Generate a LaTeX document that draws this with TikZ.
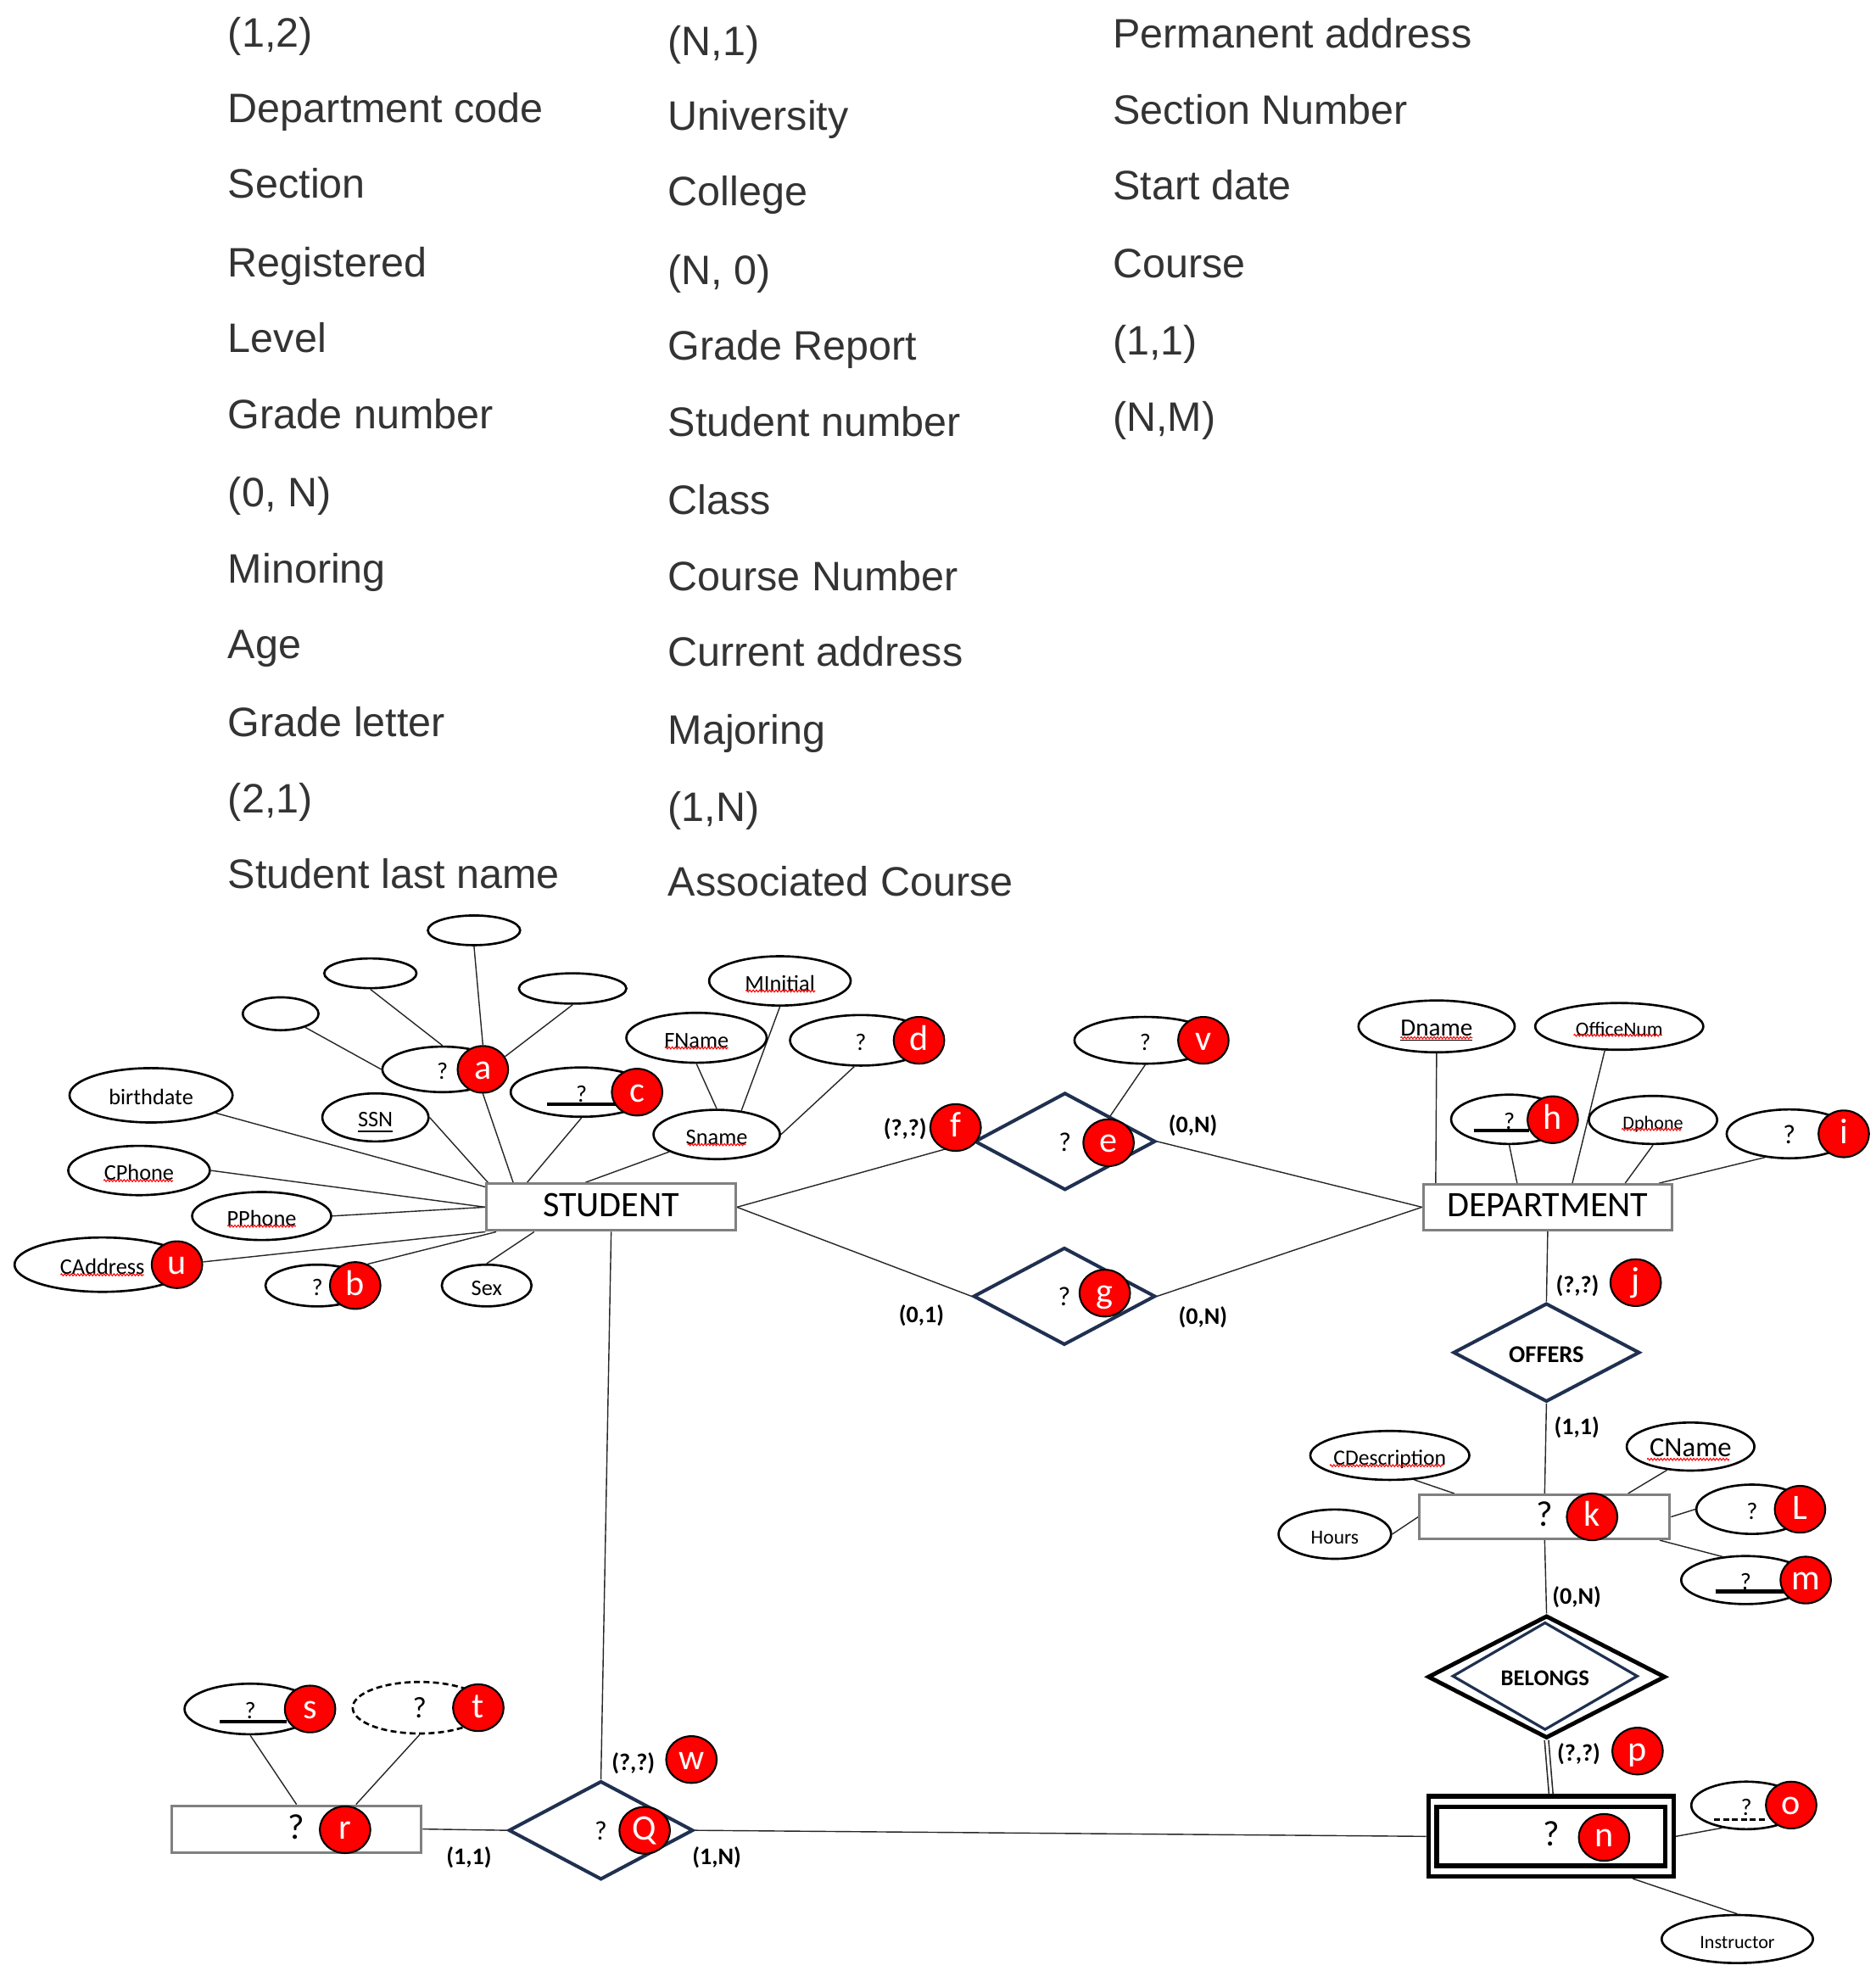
\documentclass[tikz,border=0pt]{standalone}
\usepackage{fontspec}
\setmainfont{Carlito}
\newfontfamily\listfont{Liberation Sans}
\usetikzlibrary{shapes.geometric,calc,backgrounds,decorations.pathmorphing}
\definecolor{navy}{RGB}{31,48,80}
\definecolor{listgray}{RGB}{51,51,51}
\definecolor{boxgray}{RGB}{128,128,128}
\newdimen\uu
\uu=0.014906cm
\newcommand{\fs}[1]{\fontsize{#1}{#1}\selectfont}
\begin{document}
\begin{tikzpicture}[x=0.014906cm, y=-0.014906cm,
  sz/.style 2 args={minimum width=#1*\uu, minimum height=#2*\uu},
  attr/.style={ellipse, draw, line width=0.75pt, fill=white, inner sep=0pt, text height=0.65em, text depth=0pt, font=\fs{7.5}},
  qm/.style={font=\fs{8}},
  badge/.style={ellipse, draw, line width=0.6pt, fill=red, text=white, inner sep=0pt, sz={40}{37}, text height=0.65em, text depth=0pt, font=\fs{12}},
  ent/.style={rectangle, draw=boxgray, line width=0.85pt, fill=white, inner sep=0pt, text height=0.65em, text depth=0pt, font=\fs{12}},
  rel/.style={diamond, draw=navy, line width=1.15pt, fill=white, inner sep=0pt, text height=0.65em, text depth=0pt, font=\fs{9}},
  conn/.style={draw=black!85, line width=0.4pt},
  card/.style={inner sep=0pt, font=\bfseries\fs{8}, text height=0.65em, text depth=0pt},
  keyline/.style={line width=1.2pt},
  squig/.style={draw=red, line width=0.3pt, decorate, decoration={zigzag, amplitude=0.35pt, segment length=1.1pt}},
  listtxt/.style={anchor=base west, inner sep=0pt, text=listgray, font=\listfont\fs{13.8}},
]
\useasboundingbox (0,0) rectangle (1484,1568);

% ---------------- word list ----------------
\node[listtxt] (w1)  at (180,37)  {(1,2)};
\node[listtxt] (w2)  at (180,97)  {Department code};
\node[listtxt] (w3)  at (180,157) {Section};
\node[listtxt] (w4)  at (180,219) {Registered};
\node[listtxt] (w5)  at (180,279) {Level};
\node[listtxt] (w6)  at (180,339) {Grade number};
\node[listtxt] (w7)  at (180,401) {(0, N)};
\node[listtxt] (w8)  at (180,461) {Minoring};
\node[listtxt] (w9)  at (180,521) {Age};
\node[listtxt] (w10) at (180,583) {Grade letter};
\node[listtxt] (w11) at (180,643) {(2,1)};
\node[listtxt] (w12) at (180,703) {Student last name};

\node[listtxt] (x1)  at (528,44)  {(N,1)};
\node[listtxt] (x2)  at (528,103) {University};
\node[listtxt] (x3)  at (528,163) {College};
\node[listtxt] (x4)  at (528,225) {(N, 0)};
\node[listtxt] (x5)  at (528,285) {Grade Report};
\node[listtxt] (x6)  at (528,345) {Student number};
\node[listtxt] (x7)  at (528,407) {Class};
\node[listtxt] (x8)  at (528,467) {Course Number};
\node[listtxt] (x9)  at (528,527) {Current address};
\node[listtxt] (x10) at (528,589) {Majoring};
\node[listtxt] (x11) at (528,650) {(1,N)};
\node[listtxt] (x12) at (528,709) {Associated Course};

\node[listtxt] (y1) at (880,38)  {Permanent address};
\node[listtxt] (y2) at (880,98)  {Section Number};
\node[listtxt] (y3) at (880,158) {Start date};
\node[listtxt] (y4) at (880,220) {Course};
\node[listtxt] (y5) at (880,281) {(1,1)};
\node[listtxt] (y6) at (880,341) {(N,M)};

% ---------------- STUDENT ----------------
\node[ent, sz={197}{37}] (student) at (483.5,955) {STUDENT};
\node[attr, sz={73}{23.5}] (e1) at (375,736) {};
\node[attr, sz={73}{23.5}] (e2) at (293,770) {};
\node[attr, sz={85}{24}] (e3) at (453,782) {};
\node[attr, sz={60}{26}] (e4) at (222,802) {};
\node[attr, qm, sz={95}{36}] (aA) at (350,846) {?};
\node[badge] (ba) at (382,846) {a};
\node[attr, qm, sz={112}{39}] (cC) at (460,864) {?};
\draw[keyline] (433,873.6) -- (487,873.6);
\node[badge] (bc) at (504,864) {c};
\node[attr, sz={84}{38}] (ssn) at (297,884) {\underline{SSN}};
\node[attr, sz={129}{43}] (bd) at (119.5,866.5) {birthdate};
\node[attr, sz={112}{39}] (cph) at (110,926) {CPhone};
\draw[squig] (82,934) -- (137,934);
\node[attr, sz={110}{38}] (pph) at (207,962) {PPhone};
\draw[squig] (180,970) -- (234,970);
\node[attr, sz={139}{43}] (cad) at (81,1000.5) {CAddress};
\draw[squig] (48,1008.5) -- (114,1008.5);
\node[badge] (bu) at (140,1000.5) {u};
\node[attr, qm, sz={82}{33}] (bE) at (251,1017) {?};
\node[badge] (bb) at (281,1017) {b};
\node[attr, sz={71}{33}] (sex) at (385,1017) {Sex};
\node[attr, sz={100}{39}] (sname) at (567,897.5) {Sname};
\draw[squig] (544,905.5) -- (590,905.5);
\node[attr, sz={111}{39.5}] (fname) at (551,821) {FName};
\draw[squig] (526,829) -- (576,829);
\node[attr, sz={112}{39}] (minit) at (617,776) {MInitial};
\draw[squig] (590,784) -- (645,784);
\node[attr, qm, sz={112}{40}] (dD) at (681,823) {?};
\node[badge] (bdd) at (727,823) {d};

% ---------------- relationships e, g ----------------
\node[attr, qm, sz={112}{37}] (vV) at (906,823) {?};
\node[badge] (bv) at (952,823) {v};
\node[rel, sz={143}{77}] (eR) at (842.5,903) {?};
\node[badge] (be) at (877,904) {e};
\node[badge] (bf) at (756,892) {f};
\node[card] (cf) at (716,891) {(?,?)};
\node[card] (ce) at (943.7,888.6) {(0,N)};
\node[rel, sz={144}{77}] (gR) at (842,1025.5) {?};
\node[badge] (bg) at (874,1023) {g};
\node[card] (cg1) at (729,1039) {(0,1)};
\node[card] (cg2) at (951.6,1039.7) {(0,N)};

% ---------------- DEPARTMENT ----------------
\node[ent, sz={197}{36}] (dept) at (1224.4,955) {DEPARTMENT};
\node[attr, sz={123.6}{41}, font=\fs{8.3}] (dname) at (1136.5,812) {\underline{Dname}};
\draw[squig] (1108,821) -- (1165,821);
\node[attr, sz={133}{37}, font=\fs{6.7}] (office) at (1281,812) {OfficeNum};
\draw[squig] (1245,819) -- (1315,819);
\node[attr, qm, sz={92}{39}] (hH) at (1194,885.5) {?};
\draw[keyline] (1166,894.5) -- (1210,894.5);
\node[badge] (bh) at (1228.4,885.8) {h};
\node[attr, sz={101.5}{38}, font=\fs{6.3}] (dph) at (1307.7,886) {Dphone};
\draw[squig] (1283,893.5) -- (1330,893.5);
\node[attr, sz={99}{38.6}, font=\fs{9}] (iI) at (1415.5,897) {?};
\node[badge] (bi) at (1458.6,897) {i};

\node[rel, sz={147.5}{78}, font=\bfseries\fs{8.1}] (offers) at (1223.4,1070) {OFFERS};
\node[card] (cj) at (1248,1015.3) {(?,?)};
\node[badge] (bj) at (1294,1014.7) {j};
\node[card] (co) at (1247.4,1127) {(1,1)};

% ---------------- course ----------------
\node[ent, sz={198}{35}] (course) at (1222,1200) {?};
\node[badge] (bk) at (1259.5,1200) {k};
\node[attr, sz={119}{38.7}, font=\fs{7.3}] (cdesc) at (1099.5,1151.4) {CDescription};
\draw[squig] (1052,1159.5) -- (1142,1159.5);
\node[attr, sz={101}{38}, font=\fs{9.3}] (cname) at (1337.4,1144.4) {CName};
\draw[squig] (1303,1154.5) -- (1368,1154.5);
\node[attr, sz={89}{39}, font=\fs{6.7}] (hours) at (1056,1213.7) {Hours};
\node[attr, qm, sz={88}{39}] (lL) at (1386,1194) {?};
\node[badge] (bL) at (1424,1194) {L};
\node[attr, qm, sz={102}{38}] (mM) at (1381,1250) {?};
\draw[keyline] (1357,1259) -- (1412,1259);
\node[badge] (bm) at (1428.5,1250) {m};
\node[card] (cb) at (1247.4,1261.2) {(0,N)};

% ---------------- BELONGS and weak entity ----------------
\node[diamond, draw, line width=1.4pt, fill=white, inner sep=0pt, sz={188}{97}] (belongs) at (1223.5,1326.6) {};
\node[rel, line width=0.9pt, fill=none, sz={146.6}{78}, font=\bfseries\fs{7.6}] (belin) at (1222.3,1326) {BELONGS};
\node[card] (cp) at (1249,1385.4) {(?,?)};
\node[badge] (bp) at (1295.5,1385.3) {p};
\node[rectangle, draw, line width=1.5pt, fill=white, inner sep=0pt, sz={194}{63.4}] (nn) at (1227,1452.8) {};
\node[rectangle, draw, line width=1.5pt, inner sep=0pt, sz={181}{46.6}, text height=0.65em, text depth=0pt, font=\fs{12}] (nin) at (1227,1452.7) {?};
\node[badge] (bn) at (1269,1453.6) {n};
\node[attr, qm, sz={87}{37.6}] (oO) at (1381.5,1428.3) {?};
\draw[line width=1pt, dash pattern=on 2pt off 1pt] (1356,1439.5) -- (1397,1439.5);
\node[badge] (bo) at (1417,1428) {o};
\node[attr, sz={119.7}{38}, font=\fs{6.3}] (instr) at (1374.4,1534) {Instructor};

% ---------------- Q, r ----------------
\node[rel, sz={146}{78}] (qR) at (475.4,1448) {?};
\node[badge] (bQ) at (510,1448) {Q};
\node[card] (cw) at (501,1392.7) {(?,?)};
\node[badge] (bw) at (547,1392) {w};
\node[card] (cq1) at (371,1467.4) {(1,1)};
\node[card] (cq2) at (567,1467.4) {(1,N)};
\node[ent, sz={197.5}{37}] (rR) at (234.6,1447) {?};
\node[badge] (br) at (273,1447.5) {r};
\node[attr, qm, sz={104}{40}] (sS) at (198,1352) {?};
\draw[keyline] (174,1362) -- (227,1362);
\node[badge] (bs) at (245.3,1352) {s};
\node[attr, dash pattern=on 2pt off 1.2pt, sz={106}{40.8}, font=\fs{10}] (tT) at (332,1351) {?};
\node[badge] (bt) at (378.4,1351) {t};

% ---------------- connectors ----------------
\begin{scope}[on background layer]
\draw[conn] (e4) -- (aA.west);
\draw[conn] (e2.south) -- (aA.north);
\draw[conn] (e1.south) -- (ba.north);
\draw[conn] (e3.south) -- (ba.30);
\draw[conn] (ba.south) -- ($(student.north west)+(22,0)$);
\draw[conn] (cC.south) -- ($(student.north west)+(33,0)$);
\draw[conn] (ssn.east) -- ($(student.north west)+(2,0)$);
\draw[conn] (bd) -- ($(student.north west)+(0,3.5)$);
\draw[conn] (cph.east) -- (student.west);
\draw[conn] (pph.east) -- (student.west);
\draw[conn] (bu) -- (student.south west);
\draw[conn] (bb.60) -- ($(student.south west)+(8.6,0)$);
\draw[conn] (sex.north) -- ($(student.south west)+(38.6,0)$);
\draw[conn] (sname) -- ($(student.north west)+(79,0)$);
\draw[conn] (fname.south) -- (sname.north);
\draw[conn] (minit.south) -- (sname.44);
\draw[conn] (dD.256) -- (sname.east);
\draw[conn] (vV.south) -- (be.north);
\draw[conn] (student.east) -- (eR.west);
\draw[conn] (eR.east) -- (dept.west);
\draw[conn] (student.east) -- (gR.west);
\draw[conn] (gR.east) -- (dept.west);
\draw[conn] (dname.south) -- ($(dept.north west)+(10.9,0)$);
\draw[conn] (office.239) -- ($(dept.north west)+(119,0)$);
\draw[conn] (hH.south) -- ($(dept.north west)+(75.3,0)$);
\draw[conn] (dph.south) -- ($(dept.north west)+(160.8,0)$);
\draw[conn] (iI.224) -- ($(dept.north west)+(187.7,0)$);
\draw[conn] (dept.south) -- (offers.north);
\draw[conn] (offers.south) -- (course.north);
\draw[conn] (cdesc.315) -- ($(course.north west)+(28.5,0)$);
\draw[conn] (cname.225) -- ($(course.north west)+(166,0)$);
\draw[conn] (hours.east) -- (course.west);
\draw[conn] (lL.west) -- (course.east);
\draw[conn] (mM.135) -- ($(course.south east)+(-9,0)$);
\draw[conn] (course.south) -- (belongs.north);
\draw[conn, double, double distance=0.9pt, line width=0.45pt] (belongs.south) -- (nn.north);
\draw[conn] (oO.223) -- (nn.east);
\draw[conn] ($(nn.south east)+(-34,0)$) -- (instr.north);
\draw[conn] (qR.east) -- (nn.west);
\draw[conn] (student.south) -- (qR.north);
\draw[conn] (rR.east) -- (qR.west);
\draw[conn] (sS.south) -- (rR.north);
\draw[conn] (tT.south) -- ($(rR.north west)+(146.8,0)$);
\end{scope}
\end{tikzpicture}
\end{document}
